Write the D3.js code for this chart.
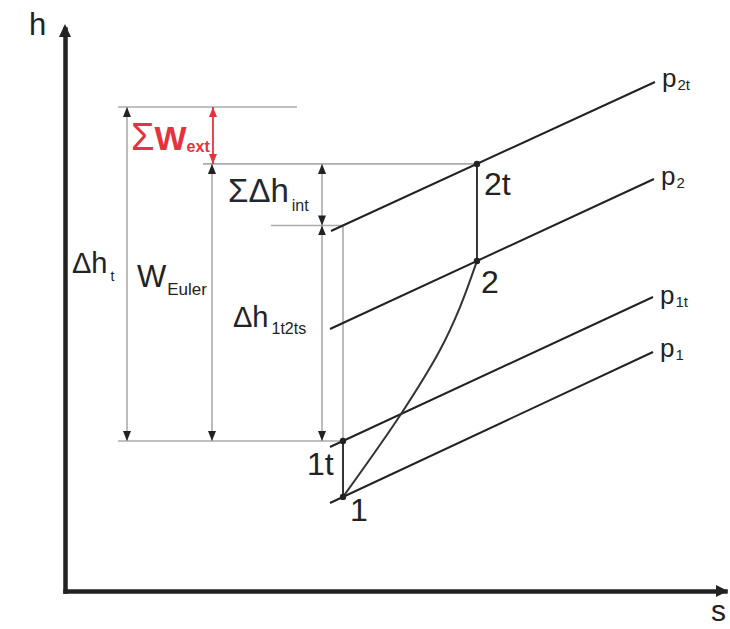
<!DOCTYPE html>
<html>
<head>
<meta charset="utf-8">
<script src="https://cdn.jsdelivr.net/npm/d3@7"></script>
<style>
  body { margin: 0; background: #fff; }
  svg { display: block; }
  text { font-family: "Liberation Sans", Arial, Helvetica, sans-serif; fill: #222; }
</style>
</head>
<body>
<svg id="chart" width="730" height="629"></svg>
<script>
// h-s diagram of a compression stage (schematic units)

// Isobars: start and end points (entropy s, enthalpy h)
const isobarSub    = ["1", "1t", "2", "2t"];
const isobarStartS = [4.015, 4.015, 4.015, 4.030];
const isobarStartH = [1.566, 2.562, 4.662, 6.406];
const isobarEndS   = [8.909, 8.909, 8.924, 8.939];
const isobarEndH   = [4.253, 5.231, 7.331, 9.057];

// State points
const stateNames = ["1", "1t", "2", "2t", "2ts"];
const stateS     = [4.212, 4.212, 6.242, 6.242, 4.212];
const stateH     = [1.674, 2.669, 5.873, 7.600, 6.504];

// Total enthalpy level including external work
const hTop = 8.612;

// Real compression path 1 -> 2
const processS = [4.212, 5.091, 5.682, 5.985, 6.242];
const processH = [1.674, 3.149, 4.288, 5.053, 5.873];

// Dimension arrows: s position, lower h, upper h
const dimNames = ["dh_t", "W_Euler", "W_ext", "dh_int", "dh_1t2ts"];
const dimS     = [0.939, 2.227, 2.242, 3.894, 3.894];
const dimLow   = [2.669, 2.669, 7.600, 6.504, 2.669];
const dimHigh  = [hTop, 7.600, hTop, 7.600, 6.504];

// Extension (reference) lines: horizontal levels with s range
const extH    = [hTop, 7.600, 6.504, 2.669];
const extFrom = [0.803, 2.091, 3.121, 0.803];
const extTo   = [3.515, 6.242, 4.212, 4.212];

const svg = d3.select("#chart");
const x = d3.scaleLinear().domain([0, 10]).range([65, 725]);
const y = d3.scaleLinear().domain([0, 10]).range([591, 29]);

const RED = "#e5323c";
const GREY = "#ababab";
const INK = "#222";

// arrow markers
const defs = svg.append("defs");
function marker(id, color) {
  defs.append("marker")
    .attr("id", id)
    .attr("markerUnits", "userSpaceOnUse")
    .attr("viewBox", "0 0 10 8")
    .attr("refX", 10).attr("refY", 4)
    .attr("markerWidth", 10).attr("markerHeight", 8)
    .attr("orient", "auto-start-reverse")
    .append("path")
    .attr("d", "M0,0L10,4L0,8Z")
    .attr("fill", color);
}
marker("arrBlack", INK);
marker("arrRed", RED);

// axes without ticks
svg.append("g").attr("transform", `translate(${x(0)},0)`)
  .call(d3.axisLeft(y).tickValues([]).tickSizeOuter(0));
svg.append("g").attr("transform", `translate(0,${y(0)})`)
  .call(d3.axisBottom(x).tickValues([]).tickSizeOuter(0));
svg.selectAll(".domain")
  .attr("stroke", INK).attr("stroke-width", 4.5).attr("stroke-linecap", "square");

// axis arrowheads
svg.append("path")
  .attr("d", `M${x(0)},${y(10) - 5}L${x(0) + 6},${y(10) + 8}L${x(0) - 6},${y(10) + 8}Z`)
  .attr("fill", INK);
svg.append("path")
  .attr("d", `M${x(10) + 3},${y(0)}L${x(10) - 9},${y(0) - 6}L${x(10) - 9},${y(0) + 6}Z`)
  .attr("fill", INK);

svg.append("text").attr("x", 29).attr("y", 35).attr("font-size", 31).text("h");
svg.append("text").attr("x", 711).attr("y", 621).attr("font-size", 30).text("s");

// extension lines
svg.append("g").selectAll("line").data(extH).join("line")
  .attr("x1", (d, i) => x(extFrom[i])).attr("x2", (d, i) => x(extTo[i]))
  .attr("y1", d => y(d)).attr("y2", d => y(d))
  .attr("stroke", GREY).attr("stroke-width", 1.6);

// isentropic reference 1t -> 2ts
svg.append("line")
  .attr("x1", x(stateS[1])).attr("x2", x(stateS[4]))
  .attr("y1", y(stateH[1])).attr("y2", y(stateH[4]))
  .attr("stroke", GREY).attr("stroke-width", 1.6);

// dimension arrows
svg.append("g").selectAll("line").data(dimNames).join("line")
  .attr("x1", (d, i) => x(dimS[i])).attr("x2", (d, i) => x(dimS[i]))
  .attr("y1", (d, i) => y(dimLow[i])).attr("y2", (d, i) => y(dimHigh[i]))
  .attr("stroke", d => d === "W_ext" ? RED : GREY)
  .attr("stroke-width", d => d === "W_ext" ? 1.8 : 1.6)
  .attr("marker-start", d => d === "W_ext" ? "url(#arrRed)" : "url(#arrBlack)")
  .attr("marker-end", d => d === "W_ext" ? "url(#arrRed)" : "url(#arrBlack)");

// isobars
svg.append("g").selectAll("line").data(isobarSub).join("line")
  .attr("x1", (d, i) => x(isobarStartS[i])).attr("y1", (d, i) => y(isobarStartH[i]))
  .attr("x2", (d, i) => x(isobarEndS[i])).attr("y2", (d, i) => y(isobarEndH[i]))
  .attr("stroke", INK).attr("stroke-width", 2);

// isobar labels
const pBase = [357, 304, 185, 87];
const pLab = svg.append("g").selectAll("text").data(isobarSub).join("text")
  .attr("x", (d, i) => x(isobarEndS[i]) + 7)
  .attr("y", (d, i) => pBase[i])
  .attr("font-size", 26);
pLab.append("tspan").text("p");
pLab.append("tspan").attr("dx", 1).attr("dy", 3).attr("font-size", 15).text(d => d);

// vertical segments 1-1t and 2-2t
svg.append("line")
  .attr("x1", x(stateS[0])).attr("x2", x(stateS[1]))
  .attr("y1", y(stateH[0])).attr("y2", y(stateH[1]))
  .attr("stroke", "#333").attr("stroke-width", 2);
svg.append("line")
  .attr("x1", x(stateS[2])).attr("x2", x(stateS[3]))
  .attr("y1", y(stateH[2])).attr("y2", y(stateH[3]))
  .attr("stroke", "#333").attr("stroke-width", 2);

// compression path
svg.append("path")
  .datum(processS.map((s, i) => [s, processH[i]]))
  .attr("d", d3.line().x(d => x(d[0])).y(d => y(d[1])).curve(d3.curveCatmullRom))
  .attr("fill", "none").attr("stroke", "#333").attr("stroke-width", 2);

// state dots
svg.append("g").selectAll("circle").data(stateNames.slice(0, 4)).join("circle")
  .attr("cx", (d, i) => x(stateS[i])).attr("cy", (d, i) => y(stateH[i]))
  .attr("r", 3.2).attr("fill", INK);

// state labels
const stateLabelPos = { "1": [350, 521], "1t": [307, 475], "2": [481, 293], "2t": [484, 195] };
svg.append("g").selectAll("text").data(Object.keys(stateLabelPos)).join("text")
  .attr("x", d => stateLabelPos[d][0]).attr("y", d => stateLabelPos[d][1])
  .attr("font-size", 32).text(d => d);

// quantity labels with subscripts
function label(px, py, main, sub, size, subSize, subDy, opts = {}) {
  const t = svg.append("text").attr("x", px).attr("y", py).attr("font-size", size);
  if (opts.color) t.style("fill", opts.color);
  main.forEach(m => {
    const s = t.append("tspan").text(m.t);
    if (m.bold) s.attr("font-weight", "bold");
    if (m.size) s.attr("font-size", m.size);
  });
  const sb = t.append("tspan").attr("dx", opts.subDx || 0).attr("dy", subDy)
    .attr("font-size", subSize).text(sub);
  if (opts.subBold) sb.attr("font-weight", "bold");
  return t;
}
label(72, 273, [{ t: "Δh" }], "t", 29, 14, 8, { subDx: 3 });
label(137, 287, [{ t: "W" }], "Euler", 31, 17, 8, { subDx: 1 });
label(233, 327, [{ t: "Δh" }], "1t2ts", 29, 16, 7, { subDx: 3 });
label(228, 202, [{ t: "Σ", size: 33 }, { t: "Δh" }], "int", 33, 16, 9, { subDx: 3, color: "#1e2933" });
label(131, 150, [{ t: "Σ", size: 38 }, { t: "W", bold: true }], "ext", 34, 16, 2, { subDx: 0, color: RED, subBold: true });
</script>
</body>
</html>
